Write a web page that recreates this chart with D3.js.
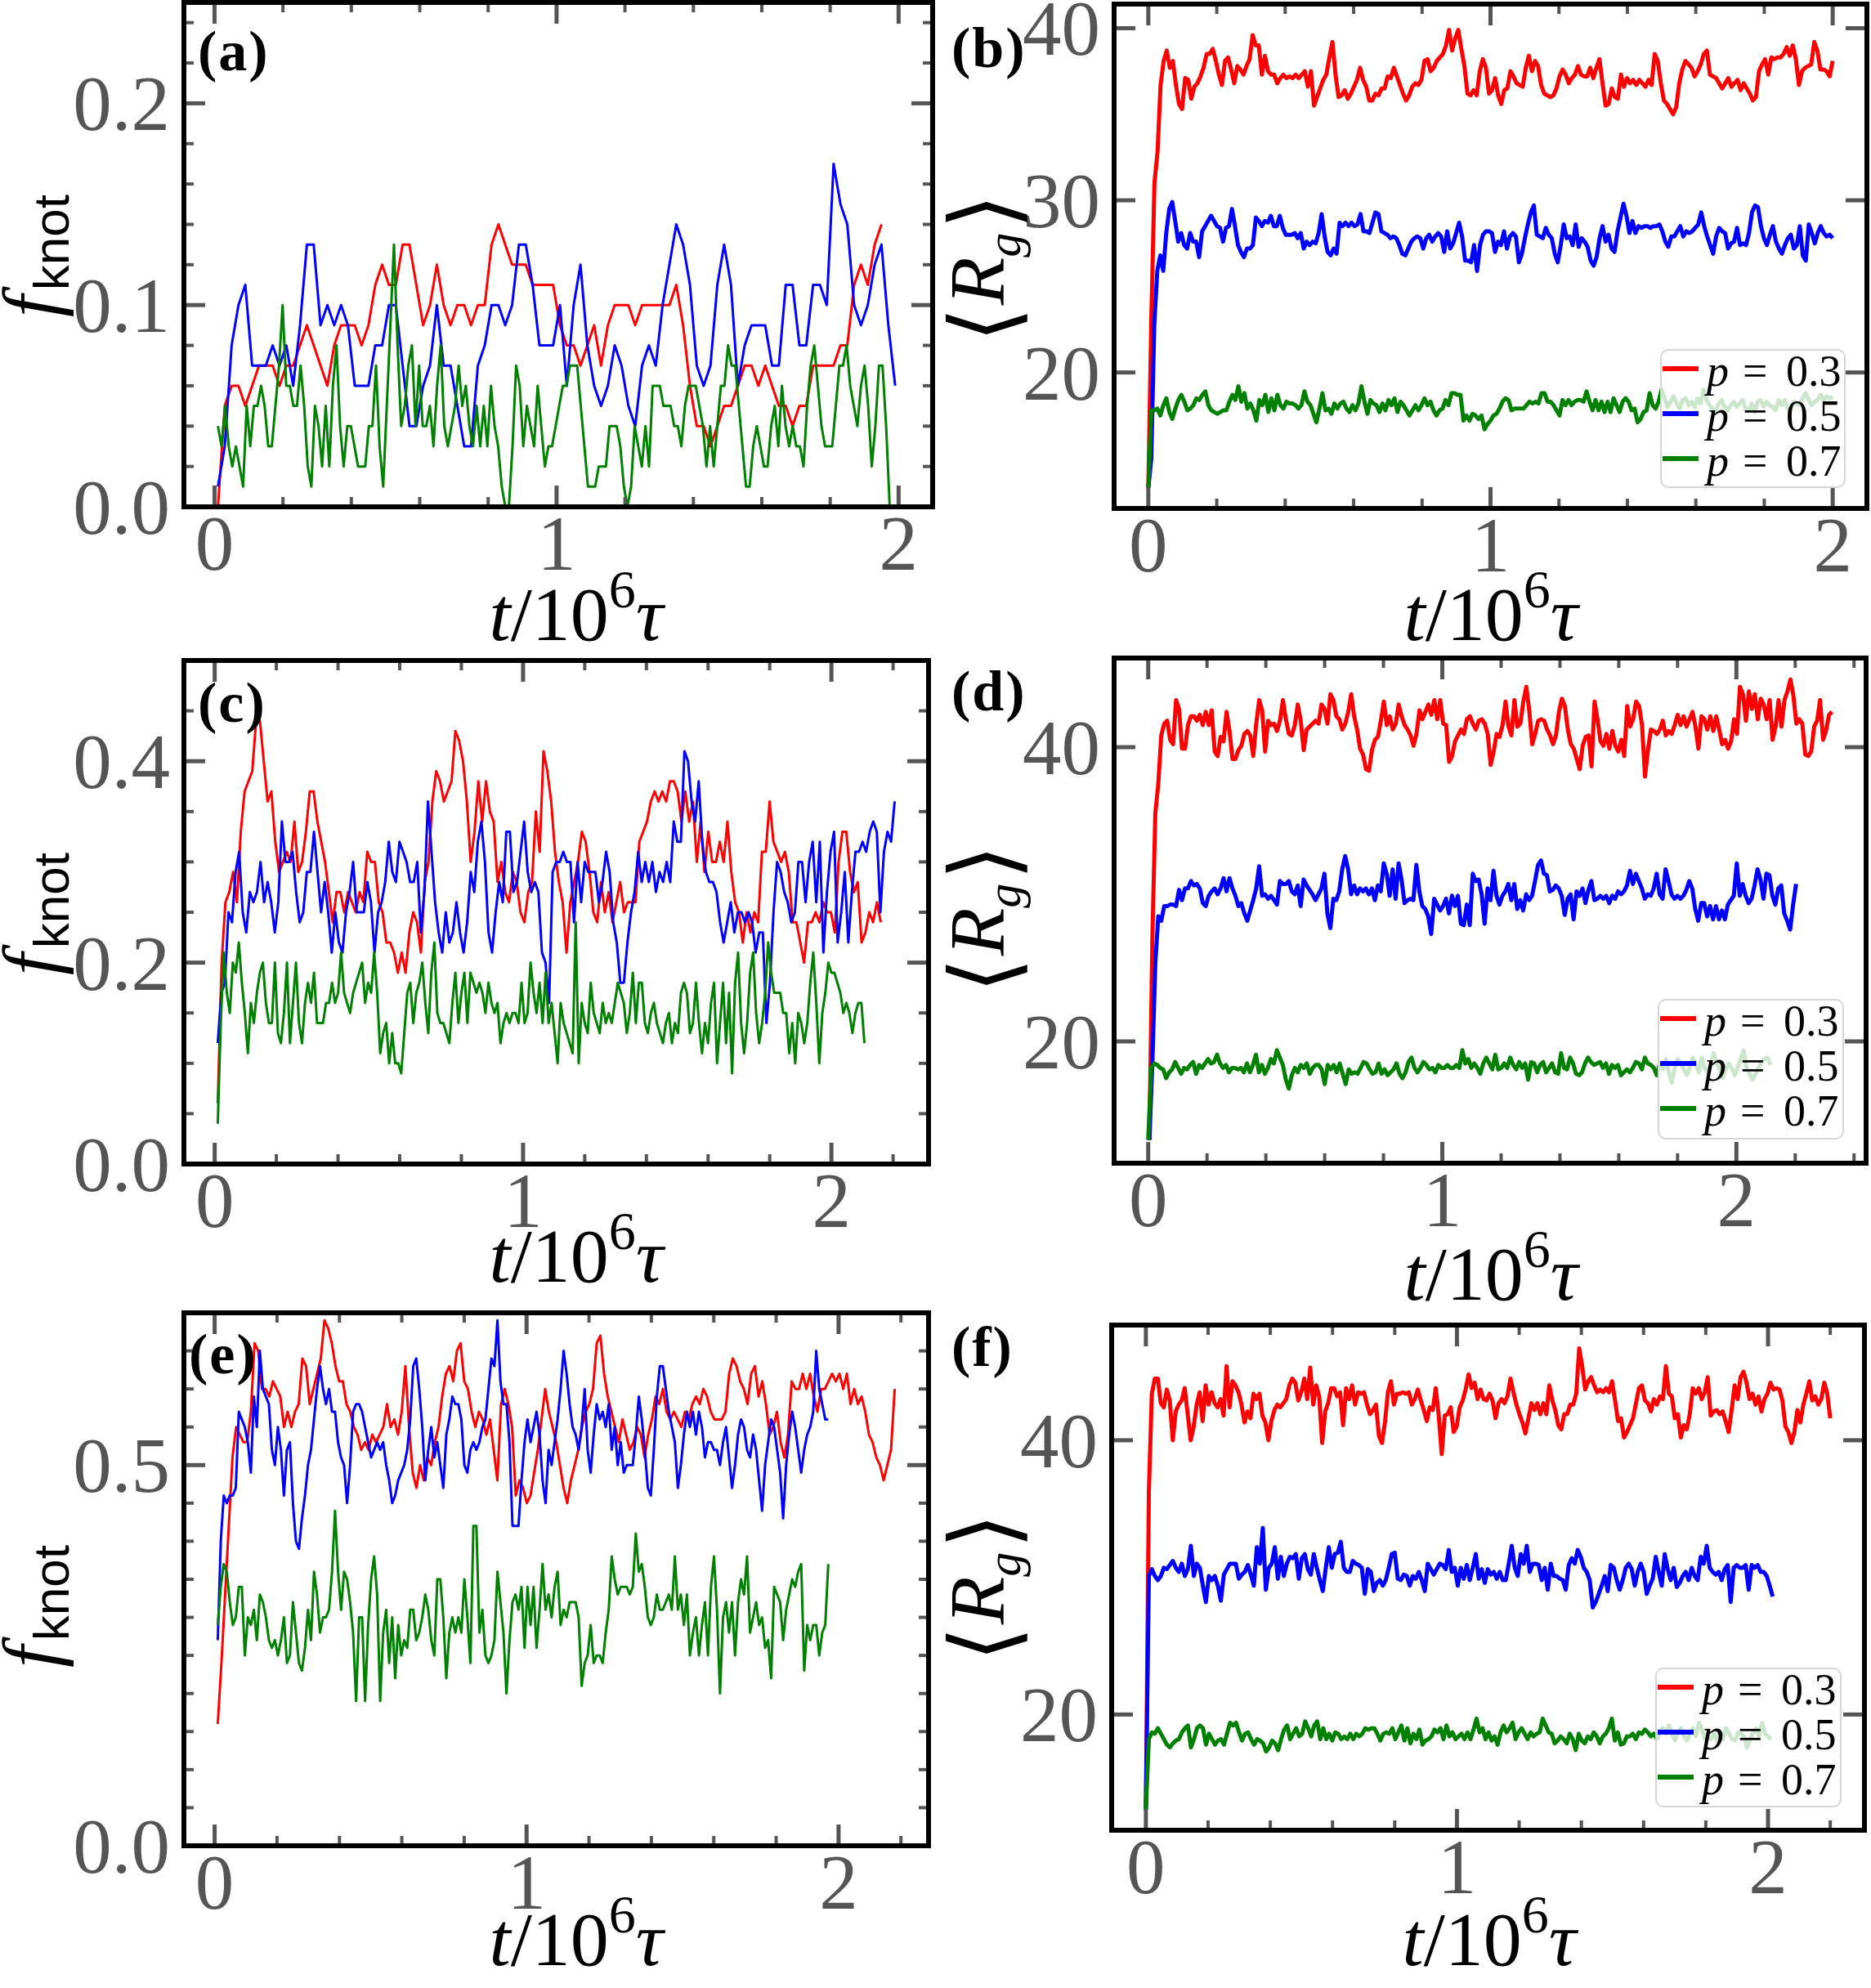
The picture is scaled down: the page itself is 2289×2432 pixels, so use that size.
<!DOCTYPE html>
<html>
<head>
<meta charset="utf-8">
<script src="https://cdn.jsdelivr.net/npm/d3@7"></script>
<style>
  body { margin: 0; background: #fff; }
</style>
</head>
<body>
<svg id="fig"></svg>
<script>
// ---- knot fraction series (panels a, c, e) ----
var aRed = [0.00,0.05,0.06,0.06,0.05,0.06,0.07,0.07,0.07,0.06,0.07,0.07,0.08,0.09,0.08,0.07,0.06,0.08,0.09,0.09,
  0.09,0.08,0.09,0.11,0.12,0.11,0.11,0.13,0.13,0.11,0.09,0.10,0.12,0.10,0.09,0.10,0.10,0.09,0.10,0.10,
  0.13,0.14,0.13,0.12,0.12,0.12,0.11,0.11,0.11,0.11,0.09,0.08,0.08,0.07,0.08,0.09,0.07,0.09,0.10,0.10,
  0.10,0.09,0.10,0.10,0.10,0.10,0.10,0.11,0.09,0.06,0.04,0.04,0.03,0.04,0.05,0.05,0.06,0.07,0.07,0.06,
  0.07,0.06,0.05,0.05,0.04,0.05,0.05,0.07,0.07,0.07,0.07,0.08,0.08,0.11,0.12,0.11,0.13,0.14];
var aBlue = [0.01,0.03,0.08,0.10,0.11,0.07,0.07,0.07,0.08,0.07,0.08,0.06,0.09,0.13,0.13,0.09,0.10,0.09,0.10,0.09,
  0.06,0.06,0.06,0.08,0.08,0.10,0.10,0.07,0.04,0.04,0.06,0.07,0.10,0.07,0.07,0.05,0.03,0.03,0.07,0.08,
  0.10,0.10,0.09,0.10,0.13,0.13,0.11,0.08,0.08,0.08,0.10,0.06,0.10,0.12,0.08,0.06,0.05,0.06,0.08,0.07,
  0.05,0.04,0.07,0.08,0.07,0.10,0.12,0.14,0.13,0.11,0.07,0.06,0.07,0.11,0.13,0.11,0.06,0.08,0.09,0.09,
  0.09,0.07,0.07,0.11,0.11,0.08,0.08,0.11,0.11,0.10,0.17,0.15,0.14,0.10,0.09,0.10,0.12,0.13,0.09,0.06];
var aGreen = [0.04,0.03,0.05,0.03,0.02,0.03,0.02,0.01,0.05,0.03,0.05,0.05,0.06,0.05,0.03,0.03,0.05,0.07,0.10,0.06,
  0.06,0.05,0.05,0.07,0.05,0.02,0.01,0.05,0.04,0.02,0.05,0.02,0.06,0.08,0.04,0.02,0.04,0.04,0.03,0.02,
  0.02,0.02,0.04,0.04,0.07,0.03,0.01,0.05,0.09,0.13,0.08,0.04,0.05,0.07,0.08,0.04,0.07,0.04,0.04,0.05,
  0.03,0.06,0.08,0.04,0.03,0.04,0.05,0.07,0.05,0.06,0.04,0.03,0.05,0.03,0.05,0.03,0.06,0.04,0.03,0.01,
  0.00,0.00,0.03,0.07,0.06,0.03,0.05,0.04,0.03,0.06,0.04,0.02,0.03,0.03,0.04,0.05,0.06,0.06,0.07,0.07,
  0.07,0.05,0.03,0.01,0.01,0.01,0.02,0.02,0.02,0.04,0.04,0.04,0.03,0.01,0.00,0.01,0.04,0.03,0.02,0.04,
  0.02,0.06,0.06,0.06,0.05,0.05,0.05,0.04,0.04,0.03,0.05,0.06,0.06,0.06,0.05,0.04,0.02,0.04,0.02,0.04,
  0.06,0.06,0.08,0.07,0.07,0.05,0.03,0.01,0.01,0.03,0.04,0.03,0.02,0.02,0.04,0.05,0.03,0.06,0.04,0.03,
  0.04,0.03,0.03,0.02,0.05,0.07,0.08,0.06,0.04,0.03,0.03,0.03,0.05,0.07,0.07,0.08,0.06,0.05,0.04,0.06,
  0.07,0.05,0.02,0.04,0.07,0.07,0.04,0.00];

var cRed = [0.06,0.20,0.26,0.27,0.29,0.26,0.33,0.37,0.38,0.39,0.44,0.44,0.40,0.36,0.37,0.32,0.29,0.30,0.31,0.30,
  0.34,0.29,0.30,0.33,0.37,0.37,0.34,0.32,0.30,0.27,0.24,0.27,0.27,0.25,0.27,0.26,0.25,0.27,0.26,0.31,
  0.30,0.30,0.26,0.25,0.22,0.22,0.21,0.19,0.21,0.19,0.23,0.25,0.24,0.21,0.28,0.30,0.36,0.39,0.38,0.36,
  0.37,0.38,0.43,0.42,0.40,0.36,0.30,0.33,0.38,0.34,0.38,0.35,0.34,0.28,0.30,0.27,0.26,0.29,0.28,0.25,
  0.24,0.27,0.28,0.35,0.31,0.41,0.39,0.36,0.31,0.28,0.26,0.21,0.26,0.28,0.30,0.33,0.32,0.29,0.25,0.24,
  0.28,0.25,0.27,0.24,0.26,0.28,0.25,0.26,0.26,0.26,0.32,0.33,0.34,0.36,0.37,0.36,0.37,0.36,0.38,0.38,
  0.37,0.34,0.37,0.34,0.36,0.30,0.34,0.29,0.33,0.30,0.30,0.32,0.30,0.34,0.29,0.26,0.25,0.22,0.25,0.23,
  0.25,0.24,0.31,0.31,0.36,0.32,0.31,0.30,0.31,0.29,0.24,0.24,0.22,0.20,0.24,0.24,0.25,0.24,0.26,0.25,
  0.25,0.23,0.30,0.33,0.33,0.29,0.27,0.28,0.22,0.23,0.25,0.24,0.26,0.24];
var cBlue = [0.12,0.17,0.18,0.25,0.24,0.29,0.31,0.25,0.23,0.27,0.26,0.27,0.30,0.26,0.28,0.26,0.23,0.26,0.34,0.30,
  0.30,0.31,0.27,0.24,0.25,0.29,0.29,0.33,0.29,0.25,0.28,0.25,0.21,0.25,0.22,0.21,0.25,0.27,0.30,0.25,
  0.25,0.25,0.28,0.26,0.21,0.25,0.26,0.28,0.32,0.29,0.28,0.32,0.31,0.30,0.28,0.28,0.30,0.23,0.27,0.36,
  0.31,0.26,0.23,0.21,0.25,0.22,0.23,0.26,0.23,0.21,0.24,0.29,0.27,0.32,0.34,0.30,0.23,0.21,0.25,0.28,
  0.26,0.33,0.33,0.27,0.28,0.31,0.34,0.29,0.27,0.28,0.27,0.21,0.20,0.16,0.29,0.30,0.30,0.31,0.30,0.30,
  0.24,0.30,0.26,0.30,0.29,0.29,0.29,0.26,0.28,0.31,0.29,0.24,0.22,0.18,0.18,0.22,0.25,0.27,0.31,0.28,
  0.30,0.28,0.30,0.27,0.29,0.28,0.30,0.28,0.34,0.32,0.32,0.41,0.40,0.36,0.34,0.38,0.32,0.29,0.28,0.28,
  0.27,0.24,0.22,0.24,0.26,0.23,0.25,0.25,0.24,0.25,0.24,0.21,0.23,0.23,0.14,0.18,0.25,0.30,0.29,0.27,
  0.26,0.24,0.25,0.30,0.30,0.26,0.30,0.32,0.26,0.32,0.21,0.27,0.31,0.33,0.22,0.25,0.29,0.22,0.27,0.31,
  0.31,0.32,0.31,0.33,0.34,0.33,0.25,0.31,0.33,0.32,0.36];
var cGreen = [0.04,0.14,0.21,0.17,0.15,0.20,0.19,0.22,0.18,0.15,0.11,0.16,0.14,0.17,0.19,0.20,0.16,0.14,0.14,0.20,
  0.13,0.12,0.15,0.20,0.12,0.16,0.20,0.14,0.12,0.16,0.18,0.16,0.19,0.14,0.14,0.14,0.16,0.16,0.18,0.16,
  0.17,0.21,0.17,0.16,0.15,0.17,0.18,0.19,0.20,0.16,0.18,0.17,0.21,0.17,0.11,0.13,0.14,0.10,0.13,0.10,
  0.10,0.09,0.13,0.17,0.18,0.14,0.17,0.18,0.20,0.16,0.13,0.19,0.22,0.15,0.14,0.14,0.13,0.12,0.16,0.19,
  0.14,0.17,0.19,0.14,0.19,0.18,0.17,0.18,0.17,0.15,0.18,0.16,0.15,0.16,0.12,0.14,0.15,0.14,0.15,0.15,
  0.14,0.18,0.14,0.15,0.20,0.17,0.15,0.18,0.14,0.19,0.14,0.16,0.13,0.10,0.16,0.14,0.13,0.12,0.11,0.24,
  0.10,0.16,0.14,0.13,0.18,0.15,0.14,0.13,0.16,0.14,0.15,0.14,0.16,0.18,0.17,0.16,0.13,0.15,0.19,0.14,
  0.18,0.18,0.14,0.13,0.15,0.16,0.14,0.13,0.12,0.14,0.15,0.12,0.14,0.13,0.17,0.18,0.17,0.13,0.14,0.18,
  0.14,0.11,0.14,0.12,0.16,0.18,0.10,0.14,0.18,0.12,0.17,0.09,0.18,0.21,0.14,0.11,0.14,0.19,0.21,0.15,
  0.12,0.14,0.17,0.22,0.19,0.17,0.17,0.17,0.15,0.15,0.11,0.14,0.10,0.15,0.14,0.12,0.14,0.18,0.21,0.16,
  0.10,0.15,0.17,0.20,0.19,0.19,0.18,0.17,0.15,0.16,0.15,0.13,0.15,0.16,0.16,0.12];

var eRed = [0.16,0.24,0.33,0.42,0.51,0.55,0.54,0.53,0.53,0.57,0.66,0.65,0.60,0.60,0.59,0.61,0.60,0.59,0.55,0.57,
  0.55,0.57,0.58,0.64,0.63,0.58,0.60,0.62,0.64,0.69,0.68,0.66,0.63,0.61,0.61,0.58,0.57,0.55,0.54,0.52,
  0.53,0.52,0.54,0.53,0.54,0.55,0.58,0.55,0.56,0.54,0.57,0.63,0.55,0.49,0.47,0.50,0.48,0.51,0.50,0.53,
  0.55,0.59,0.62,0.63,0.61,0.65,0.66,0.61,0.60,0.57,0.55,0.57,0.56,0.54,0.56,0.52,0.48,0.58,0.60,0.58,
  0.55,0.46,0.48,0.47,0.45,0.46,0.49,0.52,0.56,0.60,0.57,0.55,0.53,0.50,0.47,0.45,0.48,0.50,0.52,0.55,
  0.57,0.58,0.60,0.66,0.67,0.62,0.59,0.57,0.55,0.53,0.56,0.54,0.52,0.53,0.55,0.54,0.51,0.54,0.56,0.59,
  0.58,0.60,0.57,0.56,0.57,0.56,0.55,0.57,0.56,0.58,0.59,0.58,0.60,0.59,0.57,0.56,0.56,0.56,0.57,0.62,
  0.64,0.63,0.61,0.60,0.58,0.62,0.63,0.59,0.61,0.58,0.54,0.55,0.57,0.53,0.51,0.54,0.61,0.60,0.60,0.62,
  0.60,0.62,0.59,0.57,0.60,0.60,0.61,0.62,0.61,0.62,0.60,0.62,0.58,0.60,0.58,0.59,0.57,0.54,0.53,0.51,
  0.50,0.48,0.50,0.52,0.60];
var eBlue = [0.27,0.40,0.46,0.45,0.46,0.46,0.47,0.57,0.56,0.55,0.53,0.49,0.59,0.55,0.65,0.60,0.59,0.58,0.52,0.50,
  0.55,0.52,0.46,0.52,0.53,0.45,0.40,0.39,0.43,0.46,0.50,0.52,0.56,0.60,0.63,0.60,0.58,0.60,0.57,0.57,
  0.53,0.51,0.50,0.45,0.50,0.57,0.58,0.58,0.57,0.55,0.53,0.51,0.52,0.53,0.52,0.53,0.50,0.48,0.45,0.46,
  0.48,0.49,0.50,0.52,0.56,0.63,0.64,0.60,0.55,0.48,0.52,0.55,0.51,0.53,0.50,0.47,0.54,0.56,0.59,0.58,
  0.58,0.56,0.50,0.49,0.52,0.53,0.52,0.53,0.55,0.56,0.60,0.64,0.63,0.69,0.61,0.58,0.58,0.53,0.42,0.42,
  0.42,0.48,0.53,0.56,0.53,0.55,0.57,0.54,0.48,0.45,0.52,0.50,0.53,0.56,0.60,0.65,0.62,0.58,0.55,0.54,
  0.52,0.55,0.60,0.52,0.49,0.54,0.58,0.56,0.57,0.55,0.58,0.52,0.55,0.50,0.53,0.49,0.50,0.50,0.50,0.54,
  0.59,0.56,0.52,0.47,0.46,0.52,0.59,0.63,0.63,0.60,0.57,0.55,0.53,0.47,0.50,0.54,0.57,0.55,0.57,0.54,
  0.57,0.55,0.51,0.53,0.53,0.52,0.52,0.50,0.53,0.55,0.51,0.47,0.50,0.54,0.56,0.55,0.52,0.51,0.54,0.52,
  0.48,0.44,0.50,0.53,0.56,0.55,0.52,0.49,0.43,0.50,0.54,0.57,0.55,0.52,0.49,0.52,0.54,0.55,0.57,0.65,
  0.60,0.58,0.56,0.56];
var eGreen = [0.29,0.34,0.37,0.36,0.32,0.29,0.30,0.34,0.34,0.25,0.30,0.29,0.31,0.27,0.33,0.32,0.30,0.27,0.26,0.27,
  0.25,0.27,0.30,0.24,0.25,0.32,0.28,0.24,0.23,0.26,0.31,0.27,0.36,0.33,0.28,0.30,0.30,0.31,0.36,0.44,
  0.36,0.31,0.36,0.35,0.32,0.28,0.19,0.30,0.30,0.19,0.29,0.35,0.38,0.33,0.19,0.28,0.31,0.24,0.30,0.22,
  0.29,0.25,0.27,0.26,0.31,0.31,0.27,0.28,0.30,0.33,0.31,0.27,0.25,0.35,0.35,0.30,0.22,0.28,0.30,0.28,
  0.30,0.28,0.35,0.30,0.24,0.42,0.42,0.28,0.31,0.25,0.24,0.25,0.27,0.36,0.32,0.28,0.20,0.27,0.32,0.33,
  0.31,0.34,0.26,0.34,0.29,0.34,0.26,0.31,0.37,0.31,0.33,0.30,0.34,0.36,0.29,0.31,0.30,0.32,0.32,0.32,
  0.30,0.21,0.24,0.25,0.29,0.24,0.25,0.25,0.24,0.28,0.31,0.38,0.35,0.33,0.34,0.34,0.34,0.33,0.34,0.41,
  0.36,0.37,0.34,0.30,0.29,0.30,0.33,0.31,0.31,0.32,0.33,0.31,0.38,0.31,0.33,0.29,0.33,0.25,0.28,0.30,
  0.25,0.29,0.32,0.25,0.34,0.38,0.31,0.20,0.30,0.32,0.28,0.32,0.25,0.32,0.35,0.33,0.38,0.28,0.30,0.32,
  0.29,0.30,0.26,0.27,0.22,0.34,0.33,0.32,0.27,0.31,0.33,0.35,0.34,0.36,0.37,0.23,0.29,0.27,0.29,0.29,
  0.25,0.28,0.29,0.37];

// ---- radius of gyration series (panels b, d, f) ----
var bRed = [13.3,23.3,31.0,32.8,36.7,38.1,38.7,37.7,38.1,36.7,35.6,35.3,37.1,37.0,35.9,36.6,36.8,37.2,37.7,38.5,
  38.5,38.8,38.1,37.3,36.7,38.1,38.3,37.6,36.8,37.8,37.6,37.3,37.8,38.2,39.6,39.0,39.0,37.3,38.4,37.5,
  37.3,37.3,36.8,37.1,37.3,37.1,37.2,37.1,37.3,37.1,37.3,37.5,36.6,37.5,35.5,36.0,36.5,37.0,37.3,38.3,
  39.2,37.3,36.0,36.1,36.4,35.9,36.2,36.6,37.0,37.7,37.0,36.6,35.8,35.8,36.2,36.1,36.5,36.5,37.2,37.1,
  37.7,37.2,36.7,36.2,35.8,36.1,36.6,36.8,36.7,37.0,38.1,38.2,37.5,37.7,38.1,38.3,38.5,39.0,39.9,38.7,
  39.4,39.9,38.8,37.8,36.2,36.1,36.4,36.1,37.5,38.2,37.7,36.2,36.4,37.1,36.1,35.6,36.4,36.5,37.5,37.2,
  36.8,36.7,36.6,37.7,38.4,37.5,38.1,37.8,36.7,36.2,36.1,36.0,36.1,36.5,37.2,37.6,37.3,36.8,37.1,37.3,
  37.8,37.3,37.2,37.2,37.7,37.1,37.7,38.2,36.8,35.5,35.6,36.5,36.0,35.9,37.3,36.6,37.1,36.8,37.0,36.7,
  37.0,36.8,36.6,37.0,36.7,38.5,38.1,36.8,35.8,35.6,35.3,35.0,35.4,36.8,37.6,38.1,37.9,37.7,37.2,37.5,
  37.9,38.5,38.7,37.3,37.2,37.1,36.8,36.5,36.8,37.1,36.6,36.8,37.0,36.4,36.8,36.5,36.2,35.8,36.0,37.5,
  37.9,38.2,37.3,38.3,38.2,38.3,38.3,38.5,38.9,38.4,39.0,38.2,36.7,37.5,37.7,37.8,37.9,39.2,38.7,37.6,
  37.6,37.5,37.2,38.1];
var bBlue = [13.3,15.0,22.8,25.9,26.8,25.9,28.1,29.5,29.9,28.8,27.6,28.1,27.4,27.2,28.1,27.6,27.6,26.7,28.2,28.5,
  28.8,29.1,28.8,28.5,28.4,27.6,28.4,28.5,29.5,28.5,27.4,27.0,26.7,27.2,27.2,27.4,29.0,28.8,28.5,28.8,
  28.7,29.1,28.5,28.5,29.1,28.4,28.0,28.0,28.0,28.1,27.8,28.1,27.2,27.6,27.4,27.6,27.5,28.1,29.2,27.9,
  27.0,26.8,27.2,26.9,28.7,28.5,28.7,28.5,28.7,28.5,28.6,29.2,28.2,28.2,28.1,28.7,29.3,29.2,28.2,28.1,
  28.0,27.8,27.9,27.8,27.4,26.9,26.8,27.2,27.6,27.8,27.9,27.8,27.2,27.8,28.0,27.6,27.9,28.1,27.9,27.0,
  28.2,27.2,27.5,28.1,28.7,27.9,26.5,26.5,26.4,27.4,25.9,27.4,28.0,28.2,28.2,28.1,27.0,27.6,27.4,28.2,
  27.2,27.9,28.1,27.9,26.4,26.9,27.8,28.6,29.3,29.7,28.0,27.9,27.8,28.4,28.0,27.8,26.9,26.4,27.4,28.6,
  27.8,27.9,27.4,28.6,27.3,27.8,27.6,27.3,26.5,26.2,26.7,27.8,28.5,27.6,28.0,27.2,27.0,28.2,29.0,29.8,
  29.1,28.1,28.8,28.1,28.5,28.4,28.5,28.5,28.4,28.5,28.5,28.6,28.2,27.6,27.3,27.9,27.9,28.2,28.5,27.9,
  28.2,28.1,28.2,28.4,28.6,29.3,28.5,27.9,27.4,26.9,27.9,28.4,28.2,28.1,27.2,27.5,27.6,28.4,27.4,27.5,
  27.4,28.1,29.3,29.7,29.6,28.5,27.8,27.4,28.0,28.5,27.6,27.2,26.9,27.4,27.8,28.0,27.2,27.4,28.5,26.8,
  26.5,28.6,28.1,27.5,28.1,28.5,28.1,27.9,28.0,27.8];
var bGreen = [13.3,17.8,17.8,17.9,17.5,18.1,18.5,17.7,17.3,17.9,18.4,18.7,18.3,17.8,17.9,18.1,18.5,18.4,18.7,18.9,
  18.1,17.8,17.7,17.6,17.7,17.8,17.8,18.3,18.7,18.4,19.2,18.3,18.8,17.9,18.2,17.8,17.2,18.4,18.1,18.7,
  17.7,18.5,17.8,18.7,18.1,17.9,18.3,18.2,18.2,18.1,17.9,18.1,18.9,18.3,18.1,17.6,17.1,17.9,18.8,17.8,
  17.9,17.6,18.2,17.9,18.2,18.3,17.9,17.7,18.1,17.8,18.2,19.2,18.3,17.6,18.4,18.2,18.1,17.7,18.2,17.8,
  18.4,18.1,18.5,17.7,18.3,18.1,17.8,17.5,17.8,18.1,17.8,18.1,18.5,18.1,18.3,17.8,17.5,17.8,17.9,18.4,
  18.1,18.8,18.8,18.7,18.7,17.2,17.5,17.2,17.6,17.5,17.3,17.5,16.7,17.0,17.2,17.5,17.6,17.9,18.3,18.5,
  18.4,17.8,17.9,17.9,17.9,17.9,18.1,18.3,18.2,18.3,18.2,18.8,18.8,18.3,18.3,18.1,17.8,17.5,18.4,18.1,
  18.4,18.1,18.3,18.4,18.4,18.3,18.9,18.3,17.8,18.4,17.8,18.3,17.7,18.3,17.7,18.5,18.1,17.7,18.3,18.5,
  18.3,17.8,17.9,17.1,17.3,17.7,17.8,18.8,18.1,17.9,18.3,19.0,18.5,18.0,18.3,18.6,18.2,17.9,18.4,18.5,
  18.1,18.3,18.0,18.5,18.2,19.0,18.4,18.1,17.9,17.7,18.2,18.4,18.0,17.8,18.1,18.3,18.0,18.2,18.4,17.9,
  17.8,18.2,17.7,18.3,18.4,18.0,18.3,18.1,18.0,17.8,18.4,18.1,18.4,17.9,17.8,18.3,18.2,18.1,18.5,18.8,
  18.4,18.1,18.3,18.4,18.7,18.4,18.6,18.5,18.6];

var dRed = [13.3,27.0,35.5,37.5,40.8,41.6,41.8,40.5,40.2,43.2,42.6,39.9,39.9,41.5,42.1,42.1,41.8,42.2,41.5,42.4,
  41.5,42.5,39.7,39.4,40.7,40.4,42.4,41.1,39.2,39.2,39.8,40.1,40.9,41.1,40.8,39.4,41.6,43.2,42.5,39.7,
  41.8,41.5,41.6,41.1,41.8,43.2,41.9,40.9,40.8,41.5,42.9,41.8,39.8,41.2,41.4,41.6,41.8,41.6,42.9,42.6,
  41.6,43.6,43.2,42.1,41.9,41.2,41.6,42.4,43.6,42.1,41.2,39.9,39.5,38.5,38.4,39.8,40.5,40.7,41.8,43.1,
  41.5,42.1,41.2,41.6,42.9,42.1,41.5,41.2,40.8,40.1,40.9,42.5,41.9,42.4,42.9,42.2,43.2,41.9,43.2,41.6,
  41.5,39.0,39.4,40.4,40.8,41.2,40.9,41.9,42.1,41.6,41.2,41.8,41.9,41.6,40.9,38.8,39.7,40.9,40.7,41.5,
  43.1,41.4,40.8,43.2,41.4,41.6,43.1,44.1,42.5,40.2,40.9,41.8,41.9,41.8,41.2,40.8,40.2,40.8,42.4,43.3,
  42.8,41.2,40.2,39.9,39.2,38.5,40.1,40.7,40.8,38.7,43.1,41.9,40.4,40.1,40.9,39.9,41.1,40.1,39.7,40.5,
  39.4,42.8,41.4,41.9,43.1,42.8,41.5,38.0,39.8,41.2,41.1,40.9,41.2,41.8,40.8,41.1,40.9,41.5,42.2,41.5,
  42.1,41.4,41.9,42.4,41.4,39.9,42.1,41.9,41.2,42.1,41.1,42.1,41.2,40.2,40.5,39.9,40.4,41.9,40.9,44.1,
  43.6,41.8,43.8,42.6,43.6,41.9,43.3,42.9,41.9,43.2,40.5,41.4,43.2,41.4,43.2,43.8,44.6,43.5,41.6,41.9,
  41.6,39.5,39.4,39.7,41.4,41.8,43.2,40.5,41.1,42.2,42.4];
var dBlue = [13.3,18.5,25.3,28.5,28.2,29.2,29.2,29.3,29.3,29.2,30.3,29.6,30.4,30.4,30.9,30.6,30.7,30.4,29.4,29.2,
  29.9,30.2,30.4,30.0,30.4,31.1,30.2,31.1,30.4,29.9,29.2,29.4,28.7,28.2,28.9,29.6,30.4,31.9,29.9,30.0,
  29.7,29.9,29.6,29.3,30.9,30.7,30.7,30.9,30.2,30.0,30.6,29.2,31.0,30.6,30.3,30.0,29.6,30.0,30.4,31.4,
  28.7,27.7,29.7,29.6,30.2,31.7,32.6,31.7,30.0,30.6,30.0,30.4,30.2,30.4,30.0,30.4,29.6,30.6,30.2,32.1,
  31.4,29.9,31.7,29.7,32.1,31.0,29.4,29.6,29.7,29.6,32.0,30.2,29.2,29.0,28.5,27.3,29.7,29.3,28.9,29.2,
  29.7,28.7,29.9,29.2,29.9,28.0,27.9,29.3,27.9,31.4,30.9,31.0,30.0,28.0,30.4,29.6,31.6,29.9,29.3,29.9,
  30.2,30.7,29.6,30.7,29.0,29.6,28.9,30.0,29.6,29.9,30.9,32.0,32.3,31.4,31.3,30.2,30.3,30.6,30.4,29.9,
  28.6,29.7,30.0,28.3,30.2,29.9,30.4,29.4,30.3,30.9,29.6,29.7,29.9,29.7,29.9,29.4,29.9,29.7,30.2,30.0,
  30.2,30.6,31.6,30.7,31.4,30.9,30.4,29.7,30.0,29.9,30.4,31.4,30.0,29.7,31.7,30.9,30.0,29.7,29.9,29.7,
  29.9,30.3,30.9,30.4,29.0,28.2,29.4,29.4,28.5,29.2,28.3,29.2,28.3,28.9,28.3,29.3,29.6,29.9,32.1,29.9,
  30.7,29.9,29.4,29.7,30.6,31.7,31.0,29.7,31.4,31.3,29.9,29.3,30.4,30.6,28.7,28.2,27.6,29.3,30.7];
var dGreen = [13.3,18.2,18.5,18.4,18.2,18.1,17.5,17.9,18.1,18.6,18.2,17.8,18.2,18.1,18.4,18.6,17.8,18.4,18.2,18.5,
  18.8,18.5,18.6,19.1,18.5,18.2,18.4,17.9,18.2,18.2,18.1,18.2,17.9,18.5,17.9,18.4,19.1,17.9,18.4,17.8,
  18.2,18.8,18.5,19.4,18.9,18.4,17.4,16.8,17.7,18.2,17.9,18.4,18.2,18.5,17.8,18.2,18.4,18.4,18.1,17.1,
  18.4,18.1,18.4,17.9,18.5,17.8,17.1,18.1,17.8,17.9,17.8,18.2,18.6,18.5,18.1,17.8,17.9,18.5,17.8,18.1,
  17.7,17.9,18.1,18.5,17.8,17.5,17.9,18.6,18.9,18.2,17.9,18.2,18.6,18.4,18.1,18.2,17.9,18.4,18.2,18.2,
  18.4,18.2,18.2,18.4,18.2,19.4,18.5,18.8,18.2,18.5,18.2,17.8,18.5,18.9,18.5,18.1,19.1,18.1,18.2,18.5,
  18.2,18.9,18.4,18.1,18.6,18.2,18.5,17.4,18.6,18.5,17.9,18.4,18.6,17.9,18.2,18.5,17.9,17.8,19.2,18.2,
  18.1,18.9,18.5,17.8,17.7,17.9,18.5,18.9,18.6,18.4,18.5,18.6,18.2,18.5,17.8,18.4,18.2,18.4,17.7,17.9,
  18.1,17.9,18.2,18.6,18.5,18.1,18.9,18.5,18.4,18.2,17.7,18.5,18.1,18.8,17.9,17.2,18.2,18.8,18.5,18.1,
  17.7,18.2,18.9,18.5,17.9,18.9,18.2,17.9,18.4,19.2,18.5,18.1,17.5,18.1,18.5,18.2,17.7,18.2,18.8,19.4,
  18.2,17.8,17.4,17.8,18.2,18.6,18.8,18.9,18.4];

var fRed = [13.1,36.2,43.4,44.5,44.5,42.7,42.4,43.7,42.9,40.0,42.1,42.6,42.9,43.8,41.9,40.0,41.0,42.6,43.5,41.4,
  44.0,42.6,43.5,42.7,42.4,43.0,41.8,45.4,42.4,44.3,44.0,43.5,42.6,41.3,42.1,41.6,43.4,43.0,43.4,41.8,
  41.3,40.0,41.4,42.2,42.6,42.4,42.7,43.0,44.0,44.5,44.2,42.9,43.5,44.5,43.0,45.3,42.6,44.0,43.2,39.8,
  42.1,42.7,43.8,43.8,43.2,43.5,41.1,43.8,43.0,44.0,42.6,43.5,43.4,43.5,42.6,41.9,42.2,42.6,40.3,39.8,
  41.3,43.5,44.3,42.6,43.4,43.4,43.5,43.4,43.5,42.6,43.0,43.7,42.9,42.2,41.4,42.4,42.2,43.8,41.8,39.0,
  41.8,41.9,42.4,40.6,41.0,42.4,42.9,43.7,44.8,43.8,44.2,43.0,43.7,43.0,42.9,43.4,42.9,41.6,42.7,43.0,
  42.7,43.2,44.5,43.5,42.6,41.9,41.3,40.5,41.6,42.7,42.2,42.7,41.9,42.7,41.9,44.0,42.9,42.2,41.1,40.8,
  41.9,41.9,42.6,42.6,43.4,46.7,45.4,43.7,44.3,44.6,44.0,43.5,43.7,43.5,43.8,43.5,44.3,42.9,41.4,41.6,
  40.2,40.6,41.1,41.6,42.7,43.8,44.0,42.9,42.7,42.1,43.0,42.6,43.2,43.0,45.4,43.4,43.2,41.6,41.9,40.2,
  41.1,40.8,41.9,43.8,43.4,43.8,43.0,43.5,44.6,41.8,42.1,42.2,41.9,42.1,41.4,40.6,42.2,44.0,43.0,44.6,
  45.0,44.2,43.0,43.4,42.6,43.2,42.1,43.0,43.4,44.2,43.7,43.8,43.7,42.9,41.0,40.6,39.8,40.6,42.2,41.3,
  42.6,43.4,44.3,42.9,43.2,42.6,43.0,44.2,43.4,41.6];
var fBlue = [13.1,30.1,30.6,30.1,29.8,30.1,30.7,30.6,30.9,31.2,30.7,30.4,31.0,30.1,30.6,32.3,30.1,31.0,30.7,29.4,
  28.2,30.1,29.8,30.1,29.4,28.3,30.2,30.6,31.0,31.0,31.0,29.9,30.2,30.4,30.9,30.2,29.4,32.2,31.0,33.6,
  29.1,30.7,31.0,32.2,29.9,31.5,30.1,31.0,31.5,31.4,31.7,29.9,31.4,31.7,30.6,30.2,31.7,30.7,29.8,29.0,
  30.7,32.2,30.7,31.7,31.8,32.6,30.7,30.4,30.4,31.2,31.0,30.9,30.7,28.8,30.6,30.4,29.0,29.6,29.8,29.4,
  29.8,30.7,31.7,31.8,29.9,29.8,30.2,30.1,29.4,30.1,29.9,30.4,29.8,29.0,31.0,30.6,30.2,30.6,31.0,30.9,
  30.6,32.0,30.4,30.7,29.4,30.7,29.9,30.9,29.8,30.7,31.7,29.9,30.6,29.6,30.6,30.2,30.4,29.9,30.4,29.8,
  29.8,31.0,32.3,30.7,30.1,31.7,31.0,32.3,30.4,31.0,31.0,30.9,29.8,30.7,29.1,31.0,30.1,30.1,29.9,29.8,
  29.1,30.9,31.4,31.0,32.0,31.5,30.7,30.4,29.8,27.8,28.2,28.8,29.4,30.1,29.0,30.9,30.7,29.8,29.1,29.8,
  30.7,31.0,30.6,29.4,30.4,31.0,30.4,28.8,29.4,29.9,31.5,30.4,29.4,31.7,30.6,29.8,30.7,29.3,29.6,30.1,
  30.4,29.8,30.7,30.1,29.8,31.5,31.0,32.3,30.7,30.4,30.2,30.4,29.8,30.6,30.9,28.2,30.7,30.9,30.7,30.7,
  30.9,29.1,30.9,30.7,30.9,30.4,30.4,30.1,29.4,28.6];
var fGreen = [13.1,18.2,18.7,18.6,19.0,18.6,18.2,17.8,17.6,17.9,18.1,18.2,18.7,19.0,19.2,17.6,18.2,19.0,19.2,19.0,
  17.8,18.6,18.2,17.8,18.1,18.2,17.8,18.6,19.4,19.2,19.4,18.7,18.1,18.6,18.7,18.2,17.8,18.2,18.1,17.9,
  17.3,17.6,18.1,17.9,17.4,18.2,18.9,19.2,18.2,18.6,19.0,18.4,18.6,19.5,19.0,18.4,19.2,19.5,18.2,19.0,
  18.2,18.6,18.1,18.7,18.6,18.2,18.4,18.2,18.6,18.2,18.6,18.4,18.6,19.0,18.9,19.0,19.0,18.6,18.1,18.6,
  18.7,18.6,19.0,18.2,18.7,19.2,18.1,19.0,17.9,18.6,18.2,18.9,17.8,18.1,18.2,18.4,18.9,18.7,19.0,18.2,
  19.2,18.4,18.7,18.2,18.4,18.6,18.2,18.7,18.2,18.9,19.7,18.7,19.0,18.2,18.7,18.1,18.4,17.8,18.7,19.2,
  18.7,19.0,19.4,18.2,18.7,19.0,18.6,18.2,18.7,18.4,18.6,18.7,19.7,19.2,18.7,18.6,17.9,18.1,18.4,18.2,
  17.9,18.6,18.2,17.4,18.6,18.1,17.9,18.4,18.2,18.7,18.4,17.9,18.4,18.6,19.0,19.7,18.1,18.7,17.8,17.9,
  18.4,18.4,18.6,18.2,18.7,18.6,18.9,18.7,18.4,18.6,18.2,18.7,19.0,18.6,19.2,18.6,18.1,18.7,19.0,18.4,
  18.1,18.6,19.0,18.4,19.4,18.9,18.2,18.4,18.2,18.6,18.1,18.7,18.2,19.0,18.6,18.2,18.1,18.7,18.6,18.4,
  17.6,18.2,18.7,19.0,18.4,19.4,18.6,18.4,18.2];

// time span (in 10^6 tau) covered by each series: [first, last]
var aSpan = [[0.01, 1.95], [0.01, 1.99], [0.01, 1.974]];
var bSpan = [[0, 2.0], [0, 2.0], [0, 2.0]];
var cSpan = [[0.01, 2.16], [0.01, 2.205], [0.01, 2.107]];
var dSpan = [[0.004, 2.325], [0.004, 2.203], [0, 2.116]];
var eSpan = [[0.01, 2.18], [0.01, 1.967], [0.01, 1.967]];
var fSpan = [[0, 2.2], [0, 2.015], [0, 2.01]];

var colours = ["#ff0000", "#0000ff", "#008000"];
var legendLabels = ["0.3", "0.5", "0.7"];
var xMajorTicks = [0, 1, 2];

var W = 2289, H = 2432;
var SERIF = "'Liberation Serif', 'DejaVu Serif', serif";
var SANS = "'Liberation Sans', 'DejaVu Sans', sans-serif";
var BRACKET = "'DejaVu Sans', 'DejaVu Serif', sans-serif";
var TICKGREY = "#555555";

var svg = d3.select("#fig").attr("width", W).attr("height", H)
    .style("background", "#fff");

// turn a value array and its time span into [t, value] pairs
function series(vals, span) {
    var dt = (span[1] - span[0]) / (vals.length - 1);
    return vals.map(function(v, i) { return [span[0] + i * dt, v]; });
}

// layout of the six panels
var panels = [
    {name: "(a)", frame: [225, 3, 1141, 620], xd: [-0.0895, 2.0995], yd: [0, 0.25],
     yMajor: [0, 0.1, 0.2], yMinor: 0.02, fmt: ".1f", data: [aRed, aBlue, aGreen], span: aSpan,
     lw: 3, kind: "f", ylab: [70, 313], lab: [242, 86], xlab: [705, 783]},
    {name: "(b)", frame: [1363, 5, 2284, 622], xd: [-0.1, 2.1], yd: [12.1, 41.4],
     yMajor: [20, 30, 40], yMinor: 0, fmt: "d", data: [bRed, bBlue, bGreen], span: bSpan,
     lw: 5, kind: "R", ylab: [1228, 328], lab: [1164, 82], xlab: [1824, 783], legend: [2032, 428, 2257, 596]},
    {name: "(c)", frame: [225, 808, 1136, 1424], xd: [-0.0998, 2.315], yd: [0, 0.5],
     yMajor: [0, 0.2, 0.4], yMinor: 0.05, fmt: ".1f", data: [cRed, cBlue, cGreen], span: cSpan,
     lw: 3, kind: "f", ylab: [70, 1118], lab: [242, 883], xlab: [705, 1568]},
    {name: "(d)", frame: [1363, 805, 2283, 1423], xd: [-0.116, 2.441], yd: [11.72, 46.06],
     yMajor: [20, 40], yMinor: 0, fmt: "d", data: [dRed, dBlue, dGreen], span: dSpan,
     lw: 5, kind: "R", ylab: [1228, 1124], lab: [1164, 869], xlab: [1824, 1590], legend: [2029, 1223, 2255, 1393]},
    {name: "(e)", frame: [225, 1606, 1136, 2258], xd: [-0.0985, 2.2885], yd: [0, 0.7],
     yMajor: [0, 0.5], yMinor: 0.05, fmt: ".1f", data: [eRed, eBlue, eGreen], span: eSpan,
     lw: 3, kind: "f", ylab: [70, 1965], lab: [231, 1680], xlab: [705, 2404]},
    {name: "(f)", frame: [1360, 1621, 2281, 2239], xd: [-0.11, 2.31], yd: [11.56, 48.4],
     yMajor: [20, 40], yMinor: 0, fmt: "d", data: [fRed, fBlue, fGreen], span: fSpan,
     lw: 5, kind: "R", ylab: [1228, 1942], lab: [1164, 1671], xlab: [1822, 2404], legend: [2026, 2041, 2252, 2210]}
];

// ticks of a step that fall inside a domain, skipping the major ones
function minorTicks(domain, step, majors) {
    var out = [];
    var i0 = Math.ceil(domain[0] / step - 1e-9), i1 = Math.floor(domain[1] / step + 1e-9);
    for (var i = i0; i <= i1; i++) {
        var v = +(i * step).toFixed(6);
        if (!majors.some(function(m) { return Math.abs(m - v) < 1e-9; })) out.push(v);
    }
    return out;
}

panels.forEach(function(p, k) {
    var L = p.frame[0], T = p.frame[1], R = p.frame[2], B = p.frame[3];
    var x = d3.scaleLinear().domain(p.xd).range([L, R]);
    var y = d3.scaleLinear().domain(p.yd).range([B, T]);
    var g = svg.append("g");

    g.append("clipPath").attr("id", "clip" + k)
        .append("rect").attr("x", L).attr("y", T).attr("width", R - L).attr("height", B - T);

    // series
    var line = d3.line().x(function(d) { return x(d[0]); }).y(function(d) { return y(d[1]); });
    var lines = g.append("g").attr("clip-path", "url(#clip" + k + ")");
    p.data.forEach(function(vals, j) {
        lines.append("path")
            .attr("d", line(series(vals, p.span[j])))
            .attr("fill", "none")
            .attr("stroke", colours[j])
            .attr("stroke-width", p.lw)
            .attr("stroke-linejoin", "round");
    });

    // ticks, inward on all four sides
    var xMinor = minorTicks(p.xd, 0.2, xMajorTicks);
    var yMinor = p.yMinor ? minorTicks(p.yd, p.yMinor, p.yMajor) : [];
    var tk = g.append("g").attr("stroke", TICKGREY);
    function xt(vals, len, w) {
        vals.forEach(function(v) {
            tk.append("line").attr("x1", x(v)).attr("x2", x(v)).attr("y1", B).attr("y2", B - len).attr("stroke-width", w);
            tk.append("line").attr("x1", x(v)).attr("x2", x(v)).attr("y1", T).attr("y2", T + len).attr("stroke-width", w);
        });
    }
    function yt(vals, len, w) {
        vals.forEach(function(v) {
            tk.append("line").attr("y1", y(v)).attr("y2", y(v)).attr("x1", L).attr("x2", L + len).attr("stroke-width", w);
            tk.append("line").attr("y1", y(v)).attr("y2", y(v)).attr("x1", R).attr("x2", R - len).attr("stroke-width", w);
        });
    }
    xt(xMajorTicks, 26, 5);
    xt(xMinor, 12, 4);
    yt(p.yMajor, 26, 5);
    yt(yMinor, 12, 4);

    // frame
    g.append("rect").attr("x", L).attr("y", T).attr("width", R - L).attr("height", B - T)
        .attr("fill", "none").attr("stroke", "#000").attr("stroke-width", 6);

    // tick labels
    var fmt = d3.format(p.fmt);
    xMajorTicks.forEach(function(v) {
        g.append("text").attr("x", x(v)).attr("y", B + 77)
            .attr("text-anchor", "middle").attr("font-family", SERIF).attr("font-size", 95)
            .attr("fill", TICKGREY).text(d3.format("d")(v));
    });
    p.yMajor.forEach(function(v) {
        g.append("text").attr("x", L - 17).attr("y", y(v) + 33)
            .attr("text-anchor", "end").attr("font-family", SERIF).attr("font-size", 95)
            .attr("fill", TICKGREY).text(fmt(v));
    });

    // x label  t/10^6 tau
    var xl = g.append("text").attr("x", p.xlab[0]).attr("y", p.xlab[1])
        .attr("text-anchor", "middle").attr("font-family", SERIF).attr("font-size", 94).attr("fill", "#000");
    xl.append("tspan").attr("font-style", "italic").text("t");
    xl.append("tspan").text("/10");
    xl.append("tspan").attr("font-size", 66).attr("dy", -40).text("6");
    xl.append("tspan").attr("font-style", "italic").attr("dy", 40).text("\u03c4");

    // y label
    var yl = g.append("text")
        .attr("transform", "translate(" + p.ylab[0] + "," + p.ylab[1] + ") rotate(-90)")
        .attr("text-anchor", "middle").attr("font-family", SERIF).attr("font-size", 96).attr("fill", "#000");
    if (p.kind === "f") {
        yl.append("tspan").attr("font-style", "italic").text("f");
        yl.append("tspan").attr("font-family", SANS).attr("font-size", 62).attr("dy", 14).attr("dx", 6).text("knot");
    } else {
        yl.append("tspan").attr("font-family", BRACKET).attr("font-weight", 200).attr("font-size", 112).attr("dy", 14).text("\u27e8");
        yl.append("tspan").attr("font-style", "italic").attr("dy", -14).attr("dx", 2).text("R");
        yl.append("tspan").attr("font-style", "italic").attr("font-size", 60).attr("dy", 20).text("g");
        yl.append("tspan").attr("font-family", BRACKET).attr("font-weight", 200).attr("font-size", 112).attr("dy", -6).attr("dx", 4).text("\u27e9");
    }

    // panel letter
    g.append("text").attr("x", p.lab[0]).attr("y", p.lab[1])
        .attr("font-family", SERIF).attr("font-weight", "bold").attr("font-size", 70)
        .attr("letter-spacing", 2).attr("fill", "#000").text(p.name);

    // legend
    if (p.legend) {
        var lg = p.legend;
        var leg = g.append("g");
        leg.append("rect").attr("x", lg[0]).attr("y", lg[1])
            .attr("width", lg[2] - lg[0]).attr("height", lg[3] - lg[1])
            .attr("rx", 9).attr("ry", 9)
            .attr("fill", "#fff").attr("fill-opacity", 0.8)
            .attr("stroke", "#d6d6d6").attr("stroke-width", 2);
        legendLabels.forEach(function(lbl, j) {
            var yy = lg[1] + 23 + j * 55;
            leg.append("line").attr("x1", lg[0] + 2).attr("x2", lg[0] + 46)
                .attr("y1", yy).attr("y2", yy)
                .attr("stroke", colours[j]).attr("stroke-width", 6);
            var pieces = [["p", 56, "italic"], ["=", 100, "normal"], [lbl, 153, "normal"]];
            pieces.forEach(function(pc) {
                leg.append("text").attr("x", lg[0] + pc[1]).attr("y", yy + 21)
                    .attr("font-family", SERIF).attr("font-size", 54).attr("font-style", pc[2])
                    .attr("fill", "#000").text(pc[0]);
            });
        });
    }
});
</script>
</body>
</html>
